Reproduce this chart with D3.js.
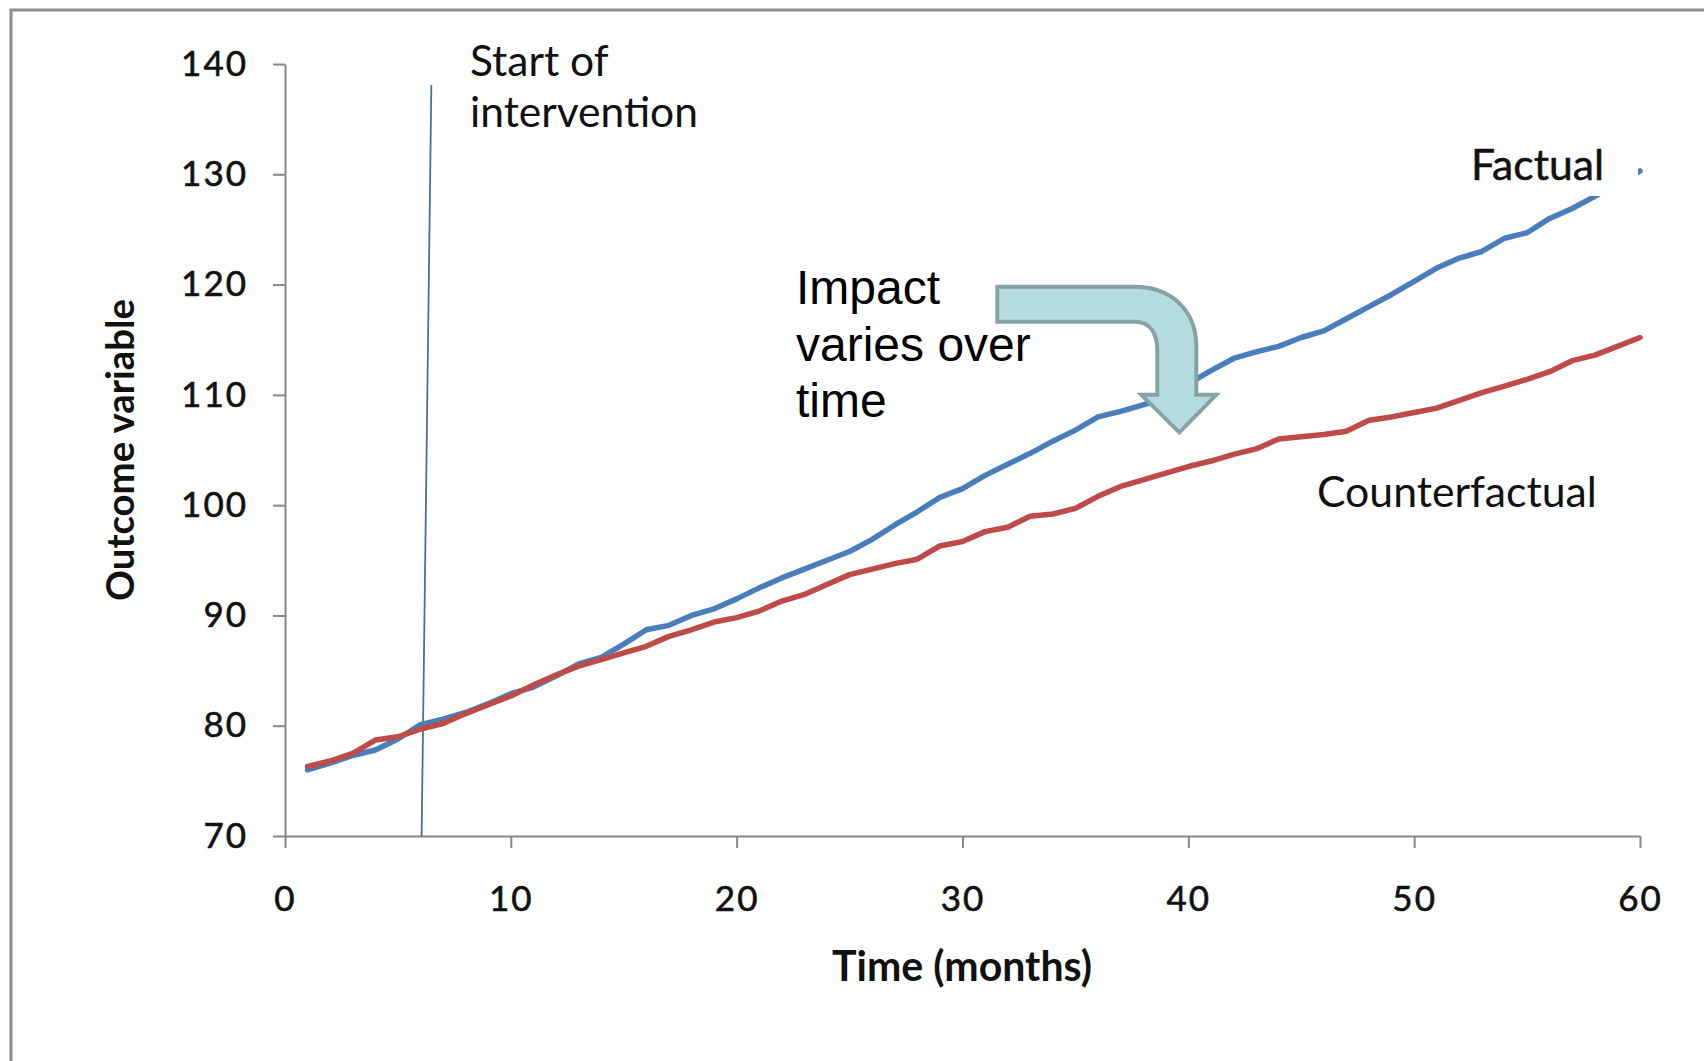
<!DOCTYPE html>
<html>
<head>
<meta charset="utf-8">
<script src="https://cdnjs.cloudflare.com/ajax/libs/d3/7.8.5/d3.min.js"></script>
<style>
body { margin: 0; background: #fff; }
</style>
</head>
<body>
<div id="chart"></div>
<script>
// months on the x axis
var months = [1,2,3,4,5,6,7,8,9,10,11,12,13,14,15,16,17,18,19,20,
              21,22,23,24,25,26,27,28,29,30,31,32,33,34,35,36,37,38,39,40,
              41,42,43,44,45,46,47,48,49,50,51,52,53,54,55,56,57,58,59,60];

// outcome with the intervention (blue)
var factual = [76.0,76.6,77.3,77.8,78.8,80.1,80.6,81.2,82.0,82.9,
               83.5,84.5,85.6,86.2,87.4,88.7,89.1,90.0,90.6,91.5,
               92.5,93.4,94.2,95.0,95.8,96.9,98.2,99.4,100.7,101.5,
               102.7,103.7,104.7,105.8,106.8,108.0,108.5,109.1,109.8,111.0,
               112.2,113.3,113.9,114.4,115.2,115.8,116.9,118.0,119.1,120.3,
               121.5,122.4,123.0,124.2,124.7,126.0,126.9,128.0,129.2,130.3];

// outcome without the intervention (red)
var counterfactual = [76.3,76.8,77.5,78.7,79.0,79.7,80.2,81.1,81.9,82.7,
                      83.7,84.6,85.4,86.0,86.6,87.2,88.1,88.7,89.4,89.8,
                      90.4,91.3,91.9,92.8,93.7,94.2,94.7,95.1,96.3,96.7,
                      97.6,98.0,99.0,99.2,99.7,100.8,101.7,102.3,102.9,103.5,
                      104.0,104.6,105.1,106.0,106.2,106.4,106.7,107.7,108.0,108.4,
                      108.8,109.5,110.2,110.8,111.4,112.1,113.1,113.6,114.4,115.2];

var xTicks = [0,10,20,30,40,50,60];
var yTicks = [70,80,90,100,110,120,130,140];

// start of intervention marker: [month at bottom, month at top, top value]
var interventionLine = [6.05, 6.48, 138.1];
// where the "impact" arrow points: [month, value]
var arrowTip = [39.6, 106.6];

var width = 1704, height = 1061;

var svg = d3.select("#chart")
    .append("svg")
    .attr("width", width)
    .attr("height", height);

// picture frame
svg.append("path")
    .attr("d", "M11," + height + "V10H" + width)
    .attr("fill", "none")
    .attr("stroke", "#8c8c8c")
    .attr("stroke-width", 3);

var x = d3.scaleLinear().domain([0, 60]).range([285, 1640]);
var y = d3.scaleLinear().domain([70, 140]).range([836, 64]);

// shrink/grow a text so it takes the width seen in the picture
function fitWidth(text, w) {
    var len = text.node().getComputedTextLength();
    var fs = parseFloat(text.attr("font-size"));
    text.attr("font-size", fs * w / len);
}

//axes
var gx = svg.append("g")
    .attr("transform", "translate(0," + y(70) + ")")
    .call(d3.axisBottom(x).tickValues(xTicks).tickSize(12).tickSizeOuter(0).tickPadding(38));
var gy = svg.append("g")
    .attr("transform", "translate(" + x(0) + ",0)")
    .call(d3.axisLeft(y).tickValues(yTicks).tickSize(12).tickSizeOuter(0).tickPadding(25));

[gx, gy].forEach(function(g){
    g.attr("font-family", "Lato, 'Open Sans', sans-serif").attr("font-size", 35);
    g.selectAll(".domain, .tick line")
        .attr("stroke", "#878787")
        .attr("stroke-width", 2);
    g.selectAll(".tick text")
        .attr("fill", "#111")
        .attr("stroke", "#111")
        .attr("stroke-width", 0.6)
        .attr("letter-spacing", 2);
});

// start of intervention
svg.append("line")
    .attr("x1", x(interventionLine[0]))
    .attr("y1", y(70))
    .attr("x2", x(interventionLine[1]))
    .attr("y2", y(interventionLine[2]))
    .attr("stroke", "#4a6f98")
    .attr("stroke-width", 1.8);

var line = d3.line()
    .x(function(d, i){ return x(months[i]); })
    .y(function(d){ return y(d); });

svg.append("path")
    .datum(factual)
    .attr("d", line)
    .attr("fill", "none")
    .attr("stroke", "#4a7ebb")
    .attr("stroke-width", 5.5)
    .attr("stroke-linejoin", "round")
    .attr("stroke-linecap", "round");

svg.append("path")
    .datum(counterfactual)
    .attr("d", line)
    .attr("fill", "none")
    .attr("stroke", "#be4b48")
    .attr("stroke-width", 5.5)
    .attr("stroke-linejoin", "round")
    .attr("stroke-linecap", "round");

// white label box over the end of the factual line
svg.append("rect")
    .attr("x", 1450)
    .attr("y", 140)
    .attr("width", 188)
    .attr("height", 56)
    .attr("fill", "#fff");

var calibri = "Lato, 'Open Sans', sans-serif";

var t = svg.append("text")
    .attr("x", 1471).attr("y", 180)
    .attr("font-family", calibri).attr("font-size", 38)
    .attr("fill", "#111").attr("stroke", "#111").attr("stroke-width", 0.5)
    .text("Factual");
fitWidth(t, 133);

t = svg.append("text")
    .attr("x", 1317).attr("y", 507)
    .attr("font-family", calibri).attr("font-size", 38)
    .attr("fill", "#111")
    .text("Counterfactual");
fitWidth(t, 280);

var start = svg.append("text")
    .attr("font-family", calibri).attr("font-size", 38)
    .attr("fill", "#111");
start.append("tspan").attr("x", 470).attr("y", 76).text("Start of");
start.append("tspan").attr("x", 470).attr("y", 127).text("intervention");
var len = start.selectAll("tspan").nodes()[1].getComputedTextLength();
start.attr("font-size", 38 * 228 / len);

// axis titles
t = svg.append("text")
    .attr("x", 962).attr("y", 981)
    .attr("text-anchor", "middle")
    .attr("font-family", calibri).attr("font-weight", "bold").attr("font-size", 36)
    .attr("fill", "#111")
    .text("Time (months)");
fitWidth(t, 260);

t = svg.append("text")
    .attr("transform", "translate(134,450) rotate(-90)")
    .attr("text-anchor", "middle")
    .attr("font-family", calibri).attr("font-weight", "bold").attr("font-size", 36)
    .attr("fill", "#111")
    .text("Outcome variable");
fitWidth(t, 302);

// impact annotation
var impact = svg.append("text")
    .attr("font-family", "'Liberation Sans', Arial, sans-serif")
    .attr("font-size", 48)
    .attr("fill", "#000");
["Impact", "varies over", "time"].forEach(function(s, i){
    impact.append("tspan").attr("x", 796).attr("y", 304 + i * 56.5).text(s);
});

// bent arrow, drawn relative to its tip
var tx = x(arrowTip[0]), ty = y(arrowTip[1]);
var p = d3.path();
p.moveTo(tx, ty);
p.lineTo(tx - 38, ty - 37.5);
p.lineTo(tx - 22, ty - 37.5);
p.lineTo(tx - 22, ty - 82);
p.bezierCurveTo(tx - 22, ty - 100, tx - 30, ty - 110.5, tx - 44, ty - 110.5);
p.lineTo(tx - 182, ty - 110.5);
p.lineTo(tx - 182, ty - 145.5);
p.lineTo(tx - 45, ty - 145.5);
p.bezierCurveTo(tx - 8, ty - 145.5, tx + 17, ty - 122, tx + 17, ty - 86);
p.lineTo(tx + 17, ty - 37.5);
p.lineTo(tx + 37, ty - 37.5);
p.closePath();

svg.append("path")
    .attr("d", p.toString())
    .attr("fill", "#b4dcdf")
    .attr("stroke", "#85a3a6")
    .attr("stroke-width", 4)
    .attr("stroke-linejoin", "miter");
</script>
</body>
</html>
